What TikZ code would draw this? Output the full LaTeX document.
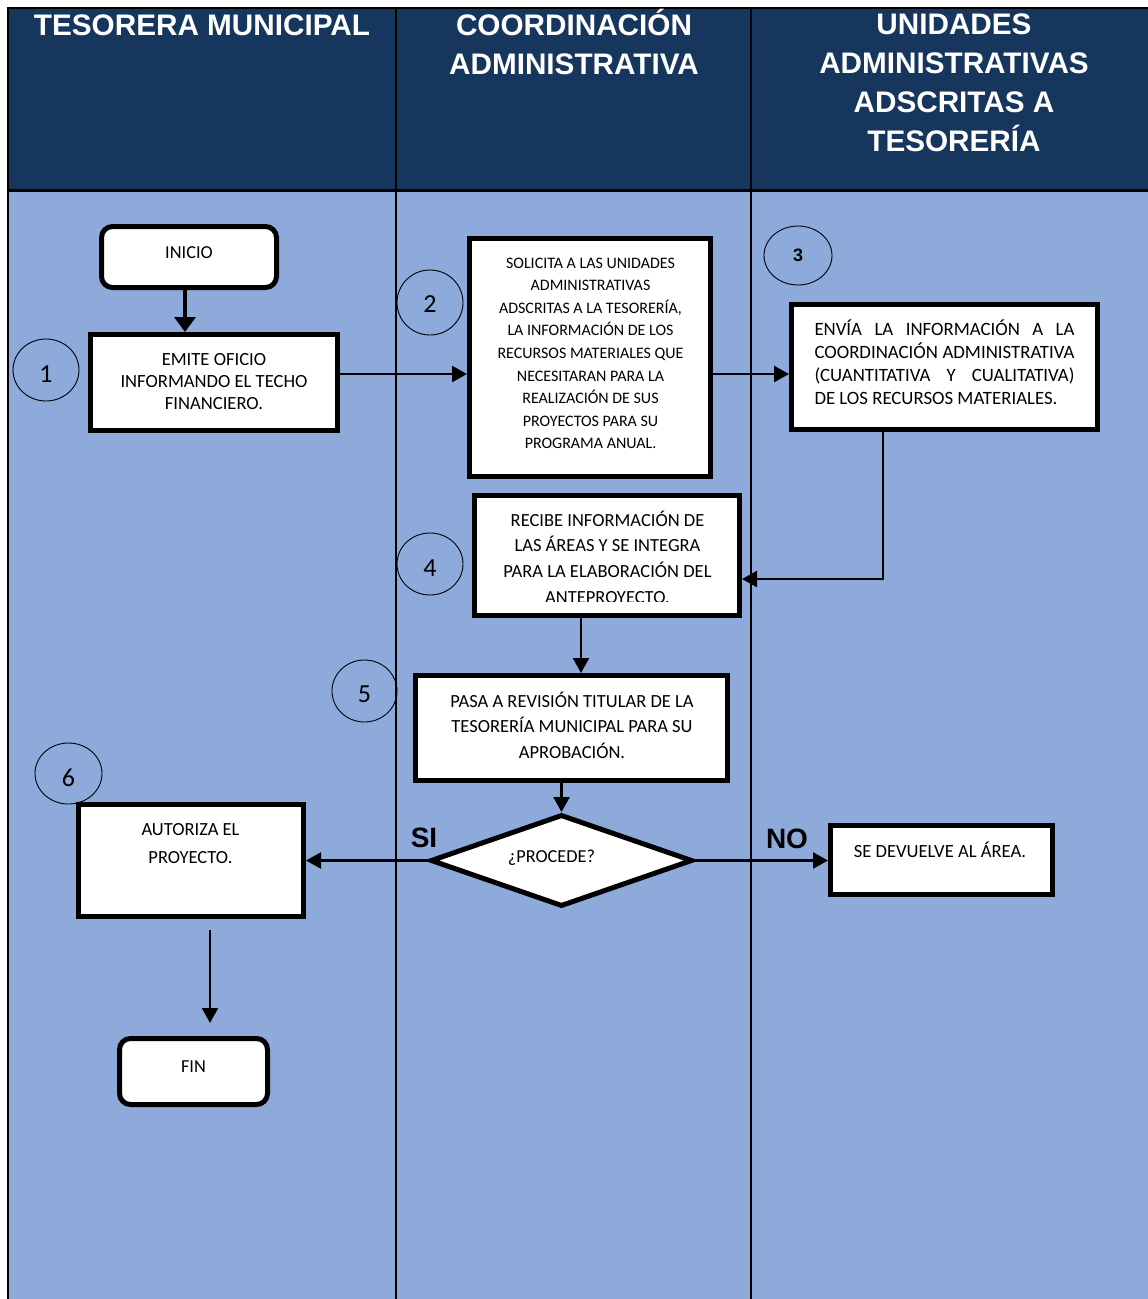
\documentclass[tikz,border=0pt]{standalone}
\usepackage{fontspec}
\setmainfont{Carlito}
\newfontfamily\hdrfont{Liberation Sans}
\usetikzlibrary{arrows.meta,shapes.geometric}
\definecolor{navy}{HTML}{17365D}
\definecolor{lane}{HTML}{8EAADB}
\begin{document}
\begin{tikzpicture}[x=1pt,y=-1pt,
  box/.style={draw=black, line width=5pt, fill=white, rectangle, inner sep=0pt, line join=miter},
  term/.style={box, rounded corners=11pt},
  num/.style={draw=black, line width=0.9pt, ellipse, inner sep=0pt, minimum width=66pt, minimum height=62pt, text height=25pt, text depth=0pt, font=\fontsize{26}{30}\selectfont},
  arr/.style={draw=black, line width=2.5pt, -{Triangle[length=15pt,width=16pt]}},
  txt/.style={anchor=base, inner sep=0pt},
  f18/.style={font=\fontsize{18.3}{22}\selectfont},
  hdr/.style={anchor=base, inner sep=0pt, text=white, font=\hdrfont\bfseries\fontsize{29.7}{39}\selectfont},
  lbl/.style={anchor=base, inner sep=0pt, font=\hdrfont\bfseries\fontsize{28}{32}\selectfont},
  lane line/.style={draw=black, line width=1.8pt},
]
\useasboundingbox (0,0) rectangle (1148,1299);
\fill[white] (0,0) rectangle (1148,1299);
\fill[navy] (8,8) rectangle (1148,190);
\fill[lane] (8,190) rectangle (1148,1299);
\draw[line width=2.5pt] (7,8) -- (1148,8);
\draw[line width=3pt] (8,190) -- (1148,190);
\draw[lane line] (8,7) -- (8,1299);
\draw[lane line] (396,8) -- (396,1299);
\draw[lane line] (751,8) -- (751,1299);

% headers
\node[hdr] (h1) at (202,35) {TESORERA MUNICIPAL};
\node[hdr] (h2) at (574,35) {\parbox[t]{340pt}{\centering COORDINACIÓN\\ADMINISTRATIVA}};
\node[hdr] (h3) at (954,34.5) {\parbox[t]{330pt}{\centering UNIDADES\\ADMINISTRATIVAS\\ADSCRITAS A\\TESORERÍA}};

% boxes
\node[term, minimum width=175pt, minimum height=61pt] (ini) at (189,257) {};
\node[txt, f18] (tini) at (189,258) {INICIO};

\node[box, minimum width=247pt, minimum height=96pt] (b1) at (214,382.5) {};
\node[txt, font=\fontsize{18.6}{22}\selectfont] (t1) at (214,365) {\parbox[t]{240pt}{\centering EMITE OFICIO\\INFORMANDO EL TECHO\\FINANCIERO.}};

\node[box, minimum width=241pt, minimum height=238pt] (b2) at (590,357.5) {};
\node[txt, font=\fontsize{16}{22.6}\selectfont] (t2) at (590.5,268) {\parbox[t]{236pt}{\centering SOLICITA A LAS UNIDADES\\ADMINISTRATIVAS\\ADSCRITAS A LA TESORERÍA,\\LA INFORMACIÓN DE LOS\\RECURSOS MATERIALES QUE\\NECESITARAN PARA LA\\REALIZACIÓN DE SUS\\PROYECTOS PARA SU\\PROGRAMA ANUAL.}};

\node[box, minimum width=306pt, minimum height=125pt] (b3) at (944.5,367) {};
\node[txt, font=\fontsize{18.8}{23.3}\selectfont] (t3) at (944.5,335) {\parbox[t]{260pt}{\hyphenpenalty=10000\tolerance=10000 ENVÍA LA INFORMACIÓN A LA\linebreak COORDINACIÓN ADMINISTRATIVA\linebreak (CUANTITATIVA Y CUALITATIVA)\linebreak DE LOS RECURSOS MATERIALES.}};

\node[box, minimum width=265pt, minimum height=120pt] (b4) at (607,555.5) {};
\begin{scope}
\clip (470,490) rectangle (745,601);
\node[txt, font=\fontsize{18.5}{25.7}\selectfont] (t4) at (607.5,526) {\parbox[t]{258pt}{\centering RECIBE INFORMACIÓN DE\\LAS ÁREAS Y SE INTEGRA\\PARA LA ELABORACIÓN DEL\\ANTEPROYECTO.}};
\end{scope}

\node[box, minimum width=312pt, minimum height=105pt] (b5) at (571.5,728) {};
\node[txt, font=\fontsize{18.5}{25.7}\selectfont] (t5) at (572,707) {\parbox[t]{305pt}{\centering PASA A REVISIÓN TITULAR DE LA\\TESORERÍA MUNICIPAL PARA SU\\APROBACIÓN.}};

\node[diamond, draw=black, line width=5pt, fill=white, inner sep=0pt, aspect=2.85, minimum width=262pt, minimum height=92pt] (dia) at (561.5,860.5) {};
\node[txt, f18] (tdia) at (551.5,862) {¿PROCEDE?};

\node[box, minimum width=225pt, minimum height=112pt] (b6) at (191,860.5) {};
\node[txt, font=\fontsize{18.5}{28}\selectfont] (t6) at (190.5,835) {\parbox[t]{215pt}{\centering AUTORIZA EL\\PROYECTO.}};

\node[box, minimum width=222pt, minimum height=69pt] (dev) at (941.5,860) {};
\node[txt, font=\fontsize{18.6}{22}\selectfont] (tdev) at (940,857) {SE DEVUELVE AL ÁREA.};

\node[term, minimum width=148pt, minimum height=66pt] (fin) at (193.5,1071.5) {};
\node[txt, f18] (tfin) at (193.5,1072) {FIN};

% step numbers
\node[num] (n1) at (46,370) {1};
\node[num, minimum height=65pt, text height=19pt] (n2) at (430,302.5) {2};
\node[num, minimum width=68pt, minimum height=59pt, text height=12.9pt, font=\hdrfont\bfseries\fontsize{18}{20}\selectfont] (n3) at (798,255.5) {3};
\node[num] (n4) at (430,564) {4};
\node[num, minimum width=65pt, text height=22pt] (n5) at (364.5,691) {5};
\node[num, minimum width=67pt, minimum height=61pt] (n6) at (68.5,773.5) {6};

% labels
\node[lbl] (si) at (424,847) {SI};
\node[lbl] (no) at (787,848) {NO};

% connectors
\coordinate (r1) at (0,374);
\coordinate (r3) at (883,579);
\coordinate (r4) at (581,0);
\coordinate (r6) at (210,0);
\draw[arr, line width=3.5pt, -{Triangle[length=15pt,width=21pt]}] ([xshift=-4pt]ini.south) -- ([xshift=-4pt]ini.south |- b1.north);
\draw[arr] (b1.east |- r1) -- (b2.west |- r1);
\draw[arr] (b2.east |- r1) -- (b3.west |- r1);
\draw[arr] (b3.south -| r3) -- (r3) -- (b4.east |- r3);
\draw[arr] (b4.south -| r4) -- (b5.north -| r4);
\draw[arr] (dia.north |- b5.south) -- (dia.north);
\draw[arr] (dia.west) -- (b6.east |- dia.west);
\draw[arr] (dia.east) -- (dev.west |- dia.east);
\draw[arr, line width=2pt, shorten <=11pt, shorten >=13pt] (b6.south -| r6) -- (fin.north -| r6);
\end{tikzpicture}
\end{document}
